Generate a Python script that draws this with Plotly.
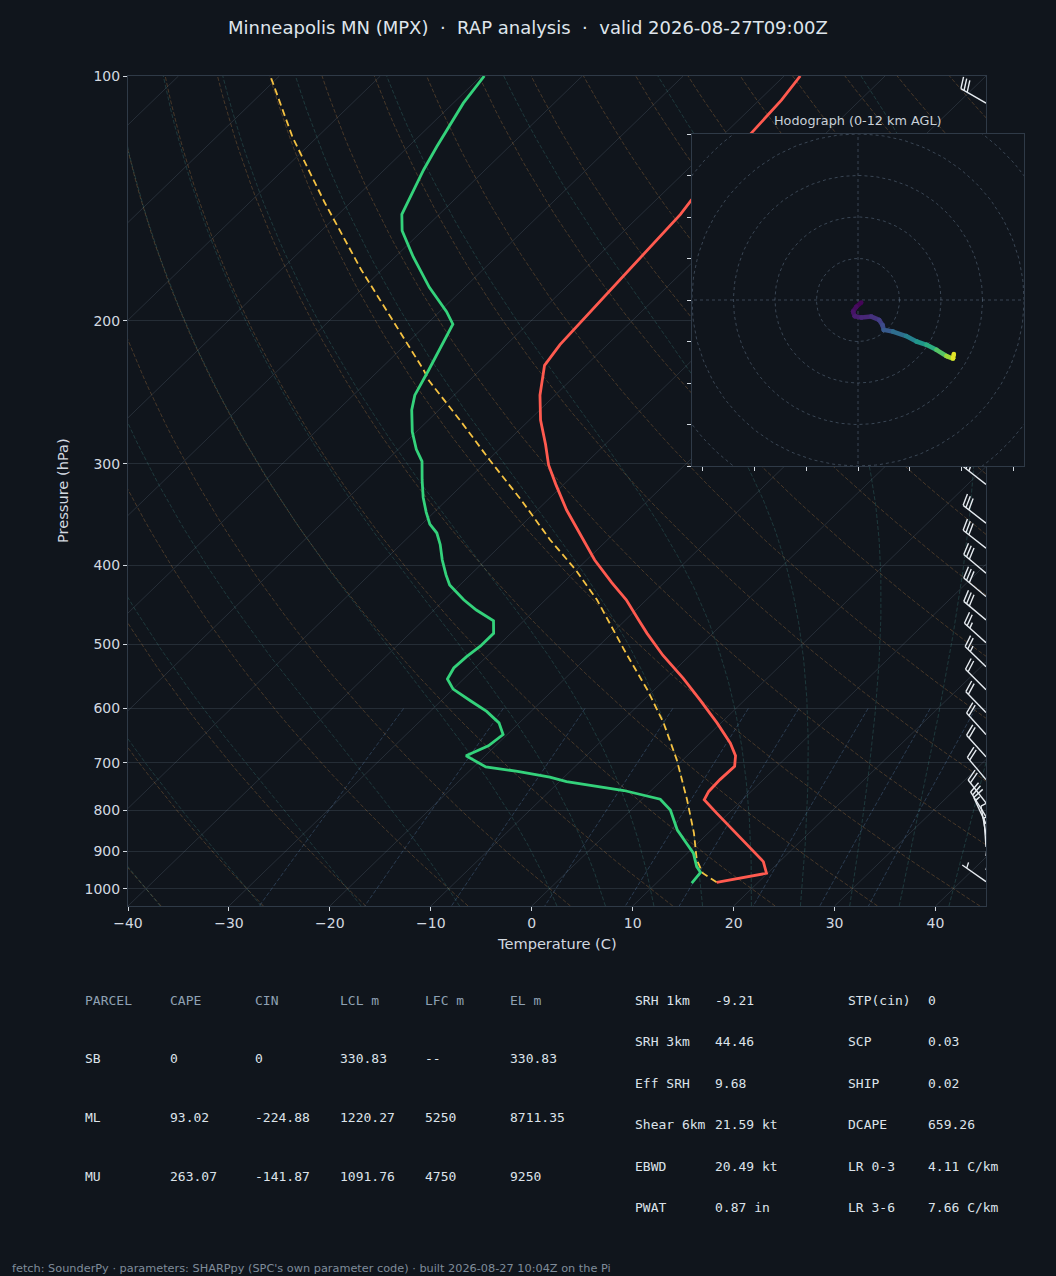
import numpy as np
import plotly.graph_objects as go
from plotly.colors import sample_colorscale

# ---------------------------------------------------------------- data
TITLE = "Minneapolis MN (MPX)  \u00b7  RAP analysis  \u00b7  valid 2026-08-27T09:00Z"
FOOTER = ("fetch: SounderPy \u00b7 parameters: SHARPpy (SPC's own parameter code) "
          "\u00b7 built 2026-08-27 10:04Z on the Pi")
HODO_TITLE = "Hodograph (0-12 km AGL)"
X_TITLE = "Temperature (C)"
Y_TITLE = "Pressure (hPa)"

temp_p = [100, 107, 117.5, 142, 148, 178, 214, 227, 247, 265, 284, 301, 318, 342, 367,
          394, 420, 441, 467, 485, 516, 551, 586, 625, 662, 686, 707, 734, 759, 777,
          807, 863, 926, 957, 982]
temp_t = [-58.4, -57.8, -57.4, -56.5, -56.1, -55.4, -54.7, -54.1, -51.5, -48.9, -45.9,
          -43.5, -40.8, -37.1, -33.2, -29.2, -25.2, -22.0, -18.7, -16.5, -12.7, -8.3,
          -4.4, -0.4, 3.0, 4.8, 5.8, 5.7, 5.8, 6.2, 8.8, 13.5, 18.4, 19.9, 15.9]

dew_p = [100, 108, 122, 130.5, 148, 155, 167, 182, 195, 202, 230, 247, 257.5, 274, 288,
         298, 314, 330, 344, 356, 365, 377, 394, 411, 423, 441, 454, 468, 485, 503, 518,
         535, 552, 568, 587, 605, 625, 646, 667, 686, 708, 717, 729, 738, 757, 776, 800,
         846, 879, 904, 939, 955, 984]
dew_t = [-89.7, -89.0, -87.2, -86.1, -83.7, -82.0, -78.2, -73.5, -69.3, -67.4, -65.1,
         -63.9, -62.7, -60.4, -58.2, -56.4, -54.5, -52.6, -50.8, -49.2, -47.6, -46.1,
         -44.3, -42.4, -41.0, -38.1, -35.8, -33.0, -31.7, -31.7, -32.0, -32.1, -31.6,
         -30.0, -27.1, -24.4, -22.0, -20.4, -20.7, -21.9, -18.8, -15.2, -11.4, -9.3,
         -2.7, 1.8, 3.9, 6.6, 8.9, 10.6, 12.3, 13.3, 13.5]

parcel_p = [982, 957, 921, 854, 777, 694, 625, 569, 508, 441, 405, 372, 332, 297, 265,
            237, 230, 201, 173, 143, 119, 100.4]
parcel_t = [15.9, 13.6, 11.6, 8.6, 4.5, -0.6, -5.7, -10.7, -17.1, -24.9, -30.1, -35.7,
            -42.7, -49.8, -56.9, -64.0, -65.6, -73.4, -82.1, -92.6, -102.4, -110.7]

barb_p = [108, 318, 355, 381, 409, 437, 467, 498, 533, 569, 607, 646, 688, 734, 784,
          815, 832, 858, 888, 911, 948, 980]
barb_dir = [300, 308, 308, 308, 310, 310, 310, 312, 314, 315, 316, 318, 318, 320, 322,
            328, 335, 350, 356, 8, 15, 305]
barb_spd = [30, 30, 30, 30, 30, 30, 30, 25, 25, 20, 20, 20, 20, 20, 20,
            20, 15, 10, 10, 10, 10, 5]

hodo_u = [0.8, -0.4, -1.2, -0.8, 0.8, 3.2, 5.1, 5.9, 6.2, 8.4, 11.6, 14.1, 16.5, 18.9,
          21.3, 22.9, 23.1]
hodo_v = [-0.6, -1.6, -2.8, -3.9, -4.2, -4.0, -4.8, -6.0, -7.2, -7.6, -8.7, -10.0,
          -10.8, -12.0, -13.5, -14.1, -13.0]
hodo_z = [0, 0.25, 0.5, 0.8, 1.1, 1.5, 2.0, 2.5, 3.0, 3.8, 4.8, 5.8, 6.8, 8.0, 9.5,
          11.0, 12.0]

p_ticks = [100, 200, 300, 400, 500, 600, 700, 800, 900, 1000]
t_ticks = [-40, -30, -20, -10, 0, 10, 20, 30, 40]
hodo_ring_speeds = [10, 20, 30, 40, 50]
hodo_xticks = [-37.5, -25, -12.5, 0, 12.5, 25, 37.5]
hodo_yticks = [-40, -30, -20, -10, 0, 10, 20, 30, 40]

parcel_header = ["PARCEL", "CAPE", "CIN", "LCL m", "LFC m", "EL m"]
parcel_names = ["SB", "ML", "MU"]
parcel_cape = ["0", "93.02", "263.07"]
parcel_cin = ["0", "-224.88", "-141.87"]
parcel_lcl = ["330.83", "1220.27", "1091.76"]
parcel_lfc = ["--", "5250", "4750"]
parcel_el = ["330.83", "8711.35", "9250"]

param_names_a = ["SRH 1km", "SRH 3km", "Eff SRH", "Shear 6km", "EBWD", "PWAT"]
param_vals_a = ["-9.21", "44.46", "9.68", "21.59 kt", "20.49 kt", "0.87 in"]
param_names_b = ["STP(cin)", "SCP", "SHIP", "DCAPE", "LR 0-3", "LR 3-6"]
param_vals_b = ["0", "0.03", "0.02", "659.26", "4.11 C/km", "7.66 C/km"]

# ---------------------------------------------------------------- layout constants
FIG_W, FIG_H = 1056, 1276
MAIN_L, MAIN_R, MAIN_T, MAIN_B = 128, 986, 76, 906
HODO_L, HODO_R, HODO_T, HODO_B = 692, 1024, 134, 466
T_MIN, T_MAX = -40, 45
P_BOT, P_TOP = 1050.0, 100.0
HODO_LIM = 40

BG = "#10151c"
FRAME = "#2f3a47"
TXT = "#d3d9e0"
TXT_DIM = "#8fa1b3"
RED = "#ff5a4f"
GREEN = "#34d27b"
YELLOW = "#f5c242"
BARB = "#e6ebf0"

W_PX = MAIN_R - MAIN_L
H_PX = MAIN_B - MAIN_T
DECADES = np.log10(P_BOT) - np.log10(P_TOP)
K_SKEW = (T_MAX - T_MIN) / DECADES   # 45 deg skew in axes fraction


def fx(px):
    return px / FIG_W


def fy(py):
    return 1 - py / FIG_H


def skew(t, p):
    return np.asarray(t, float) + K_SKEW * np.log10(P_BOT / np.asarray(p, float))


def join_lines(xs_list, ys_list):
    X, Y = [], []
    for xs, ys in zip(xs_list, ys_list):
        X.extend(list(xs)); Y.extend(list(ys))
        X.append(None); Y.append(None)
    return X, Y


fig = go.Figure()

# ---------------------------------------------------------------- background thermodynamic lines
iso_t = np.arange(-140, 50, 10)
X, Y = join_lines([skew([t, t], [P_BOT, P_TOP]) for t in iso_t],
                  [[P_BOT, P_TOP] for _ in iso_t])
fig.add_trace(go.Scatter(x=X, y=Y, mode="lines", hoverinfo="skip",
                         line=dict(color="rgba(135,155,175,0.22)", width=0.9)))

pp = np.geomspace(P_BOT, P_TOP, 70)
dry_t0 = np.arange(T_MIN, T_MAX + 201, 10)
xs_l, ys_l = [], []
for t0 in dry_t0:
    tt = (t0 + 273.15) * (pp / 1000.0) ** 0.28571 - 273.15
    xs_l.append(skew(tt, pp)); ys_l.append(pp)
X, Y = join_lines(xs_l, ys_l)
fig.add_trace(go.Scatter(x=X, y=Y, mode="lines", hoverinfo="skip",
                         line=dict(color="rgba(200,135,70,0.30)", width=1, dash="4px,2px")))

Rd, Cp, Lv, EPS = 287.04749, 1004.666, 2.50084e6, 0.6219569


def moist_rate(p, tk):
    es = 6.112 * np.exp(17.67 * (tk - 273.15) / (tk - 29.65))
    rs = EPS * es / (p - es)
    return (Rd * tk + Lv * rs) / (Cp + Lv * Lv * rs * EPS / (Rd * tk * tk)) / p


def integrate(t0k, p_path):
    out = [t0k]
    tk = t0k
    for i in range(len(p_path) - 1):
        p0, p1 = p_path[i], p_path[i + 1]
        h = p1 - p0
        k1 = moist_rate(p0, tk)
        k2 = moist_rate(p0 + h / 2, tk + h / 2 * k1)
        k3 = moist_rate(p0 + h / 2, tk + h / 2 * k2)
        k4 = moist_rate(p1, tk + h * k3)
        tk = tk + h / 6 * (k1 + 2 * k2 + 2 * k3 + k4)
        out.append(tk)
    return np.array(out)


moist_t0 = np.concatenate((np.arange(T_MIN, 0, 10), np.arange(0, T_MAX + 51, 5)))
p_up = np.linspace(1000, P_TOP, 181)
p_dn = np.linspace(1000, P_BOT, 11)
xs_l, ys_l = [], []
for t0 in moist_t0:
    tk0 = t0 + 273.15
    up = integrate(tk0, p_up) - 273.15
    dn = integrate(tk0, p_dn) - 273.15
    pcur = np.concatenate((p_dn[::-1], p_up[1:]))
    tcur = np.concatenate((dn[::-1], up[1:]))
    xs_l.append(skew(tcur, pcur)); ys_l.append(pcur)
X, Y = join_lines(xs_l, ys_l)
fig.add_trace(go.Scatter(x=X, y=Y, mode="lines", hoverinfo="skip",
                         line=dict(color="rgba(70,160,150,0.26)", width=1, dash="4px,2px")))

mix_w = np.array([0.0004, 0.001, 0.002, 0.004, 0.007, 0.01, 0.016, 0.024, 0.032])
pm = np.linspace(600, P_BOT, 40)
xs_l, ys_l = [], []
for w in mix_w:
    e = w * pm / (EPS + w)
    lne = np.log(e / 6.112)
    td = 243.5 * lne / (17.67 - lne)
    xs_l.append(skew(td, pm)); ys_l.append(pm)
X, Y = join_lines(xs_l, ys_l)
fig.add_trace(go.Scatter(x=X, y=Y, mode="lines", hoverinfo="skip",
                         line=dict(color="rgba(95,140,190,0.32)", width=1, dash="4px,2px")))

# ---------------------------------------------------------------- profiles
fig.add_trace(go.Scatter(x=skew(parcel_t, parcel_p), y=parcel_p, mode="lines",
                         line=dict(color=YELLOW, width=1.8, dash="7px,4px")))
fig.add_trace(go.Scatter(x=skew(temp_t, temp_p), y=temp_p, mode="lines",
                         line=dict(color=RED, width=2.8)))
fig.add_trace(go.Scatter(x=skew(dew_t, dew_p), y=dew_p, mode="lines",
                         line=dict(color=GREEN, width=2.8)))


# ---------------------------------------------------------------- wind barbs (overlay, pixel units)
def barb_geometry(x0, y0, wdir, spd, L=29.0):
    th = np.deg2rad(wdir)
    d = np.array([np.sin(th), np.cos(th)])
    r = np.array([d[1], -d[0]])
    base = np.array([x0, y0])
    segs = [(base, base + L * d)]
    s = int(5 * round(spd / 5.0))
    nflag, rem = divmod(s, 50)
    nfull, rem = divmod(rem, 10)
    half = rem >= 5
    spacing, height, width = 0.125 * L, 0.4 * L, 0.25 * L
    off = L
    for _ in range(nflag):
        a = base + off * d
        b = base + off * d + height * r - (width / 2) * d
        c = base + (off - width) * d
        segs += [(a, b), (b, c)]
        off -= width + spacing
    for _ in range(nfull):
        a = base + off * d
        segs.append((a, a + height * r + (width / 2) * d))
        off -= spacing
    if half:
        if nflag == 0 and nfull == 0:
            off -= 1.5 * spacing
        a = base + off * d
        segs.append((a, a + (height / 2) * r + (width / 4) * d))
    return segs


bx, by = [], []
for p, wd, sp in zip(barb_p, barb_dir, barb_spd):
    y0 = H_PX * (np.log10(P_BOT) - np.log10(p)) / DECADES
    for a, b in barb_geometry(W_PX, y0, wd, sp):
        bx += [a[0], b[0], None]
        by += [a[1], b[1], None]
fig.add_trace(go.Scatter(x=bx, y=by, xaxis="x2", yaxis="y2", mode="lines", hoverinfo="skip",
                         line=dict(color=BARB, width=1.4)))

# ---------------------------------------------------------------- hodograph
ang = np.linspace(0, 2 * np.pi, 241)
X, Y = join_lines([r * np.cos(ang) for r in hodo_ring_speeds],
                  [r * np.sin(ang) for r in hodo_ring_speeds])
X += [-HODO_LIM * 2, HODO_LIM * 2, None, 0, 0]
Y += [0, 0, None, -HODO_LIM * 2, HODO_LIM * 2]
fig.add_trace(go.Scatter(x=X, y=Y, xaxis="x3", yaxis="y3", mode="lines", hoverinfo="skip",
                         line=dict(color="rgba(120,140,165,0.45)", width=0.9, dash="3px,3px")))

zmax = max(hodo_z)
for i in range(len(hodo_u) - 1):
    zc = 0.5 * (hodo_z[i] + hodo_z[i + 1]) / zmax
    col = sample_colorscale("Viridis", [zc])[0]
    fig.add_trace(go.Scatter(x=hodo_u[i:i + 2], y=hodo_v[i:i + 2], xaxis="x3", yaxis="y3",
                             mode="lines+markers", hoverinfo="skip",
                             marker=dict(size=4.5, color=col),
                             line=dict(color=col, width=4.5)))

# ---------------------------------------------------------------- axes
axis_font = dict(family="DejaVu Sans, sans-serif", size=14, color=TXT)
fig.update_layout(
    template="none",
    width=FIG_W, height=FIG_H, autosize=False,
    margin=dict(l=0, r=0, t=0, b=0, pad=0),
    paper_bgcolor=BG, plot_bgcolor=BG,
    font=dict(family="DejaVu Sans, sans-serif", color=TXT),
    showlegend=False, hovermode=False,
    xaxis=dict(domain=[fx(MAIN_L), fx(MAIN_R)], range=[T_MIN, T_MAX], anchor="y",
               automargin=False,
               tickvals=t_ticks, ticktext=[str(t).replace("-", "\u2212") for t in t_ticks],
               ticks="outside", ticklen=4, tickwidth=1, tickcolor=TXT, tickfont=axis_font,
               showgrid=False, zeroline=False, showline=True, mirror=True,
               linecolor=FRAME, linewidth=1),
    yaxis=dict(domain=[fy(MAIN_B), fy(MAIN_T)], type="log",
               range=[np.log10(P_BOT), np.log10(P_TOP)], anchor="x", automargin=False,
               tickvals=p_ticks, ticktext=[str(p) for p in p_ticks],
               ticks="outside", ticklen=4, tickwidth=1, tickcolor=TXT, tickfont=axis_font,
               showgrid=True, gridcolor="rgba(135,155,175,0.18)", gridwidth=0.9,
               zeroline=False, showline=True, mirror=True, linecolor=FRAME, linewidth=1),
    xaxis2=dict(overlaying="x", anchor="y2", range=[0, W_PX], visible=False,
                automargin=False),
    yaxis2=dict(overlaying="y", anchor="x2", range=[0, H_PX], visible=False,
                automargin=False),
    xaxis3=dict(domain=[fx(HODO_L), fx(HODO_R)], anchor="y3", automargin=False,
                range=[-HODO_LIM, HODO_LIM], tickvals=hodo_xticks, showticklabels=False,
                ticks="outside", ticklen=4, tickwidth=1, tickcolor=TXT,
                showgrid=False, zeroline=False, showline=True, mirror=True,
                linecolor=FRAME, linewidth=1),
    yaxis3=dict(domain=[fy(HODO_B), fy(HODO_T)], anchor="x3", automargin=False,
                range=[-HODO_LIM, HODO_LIM], tickvals=hodo_yticks, showticklabels=False,
                ticks="outside", ticklen=4, tickwidth=1, tickcolor=TXT,
                showgrid=False, zeroline=False, showline=True, mirror=True,
                linecolor=FRAME, linewidth=1),
)

# ---------------------------------------------------------------- text
ann = []


def add_text(text, x, y, size, color, family="DejaVu Sans, sans-serif", xanchor="left",
             angle=0):
    ann.append(dict(text=text, x=fx(x), y=fy(y), xref="paper", yref="paper",
                    xanchor=xanchor, yanchor="middle", showarrow=False, textangle=angle,
                    borderpad=0,
                    font=dict(family=family, size=size, color=color)))


add_text(TITLE, FIG_W / 2, 27, 18, "#dfe5ec", xanchor="center")
add_text(X_TITLE, (MAIN_L + MAIN_R) / 2, 943, 14.6, TXT, xanchor="center")
add_text(Y_TITLE, 63, (MAIN_T + MAIN_B) / 2, 14.6, TXT, xanchor="center", angle=-90)
add_text(HODO_TITLE, (HODO_L + HODO_R) / 2, 120, 12.8, "#c9d1d9", xanchor="center")

MONO = "DejaVu Sans Mono, monospace"
col_x = [84, 169, 254, 339, 424, 509]
row_y = [1000, 1058, 1117, 1176]
for cx, h in zip(col_x, parcel_header):
    add_text(h, cx, row_y[0], 13, TXT_DIM, family=MONO)
for i, row in enumerate(zip(parcel_names, parcel_cape, parcel_cin, parcel_lcl,
                            parcel_lfc, parcel_el)):
    for cx, val in zip(col_x, row):
        add_text(val, cx, row_y[i + 1], 13, "#dde3ea", family=MONO)

prow_y = [1000, 1041, 1083, 1124, 1166, 1207]
for i in range(len(param_names_a)):
    add_text(param_names_a[i], 634, prow_y[i], 13, "#dde3ea", family=MONO)
    add_text(param_vals_a[i], 714, prow_y[i], 13, "#dde3ea", family=MONO)
    add_text(param_names_b[i], 847, prow_y[i], 13, "#dde3ea", family=MONO)
    add_text(param_vals_b[i], 927, prow_y[i], 13, "#dde3ea", family=MONO)

add_text(FOOTER, 11, 1268, 11.3, "#7f8c9a")
fig.update_layout(annotations=ann)

fig.write_html(
    "out.html",
    config={"displayModeBar": False, "responsive": False},
    post_script=("document.documentElement.style.margin='0';"
                 "document.documentElement.style.overflow='hidden';"
                 "document.body.style.margin='0';document.body.style.padding='0';"
                 "document.body.style.background='%s';"
                 "document.body.style.overflow='hidden';"
                 "var gd=document.getElementById('{plot_id}');"
                 "gd.style.position='fixed';gd.style.left='0px';gd.style.top='0px';" % BG),
)
